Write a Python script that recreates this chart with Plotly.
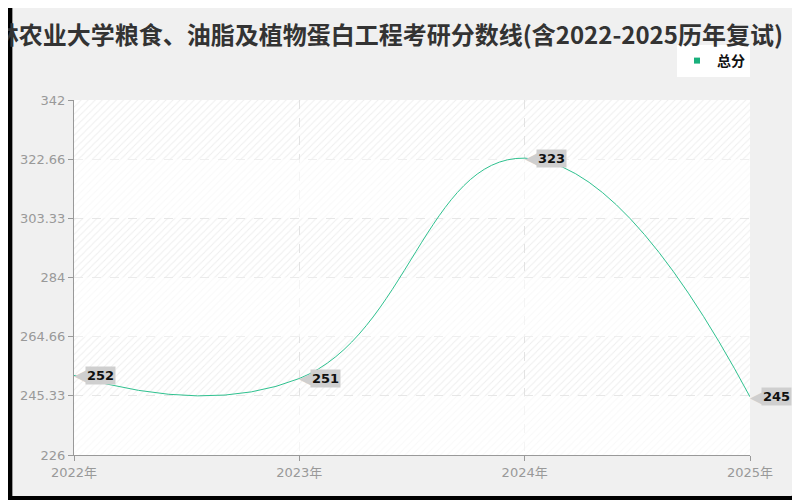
import plotly.graph_objects as go

# ---- data ----
years = [2022, 2023, 2024, 2025]
scores = [252, 251, 323, 245]
series_name = "总分"
x_tick_labels = ["2022年", "2023年", "2024年", "2025年"]
y_tick_vals = [226, 245.33, 264.66, 284, 303.33, 322.66, 342]
y_tick_labels = ["226", "245.33", "264.66", "284", "303.33", "322.66", "342"]
title_text = "吉林农业大学粮食、油脂及植物蛋白工程考研分数线(含2022-2025历年复试)"

# page offset (body margin) compensation: screen = figure + 8
OFF = 8
W, H = 800, 500
ML, MT = 70 - OFF, 100 - OFF
PW, PH = 680, 355
MR, MB = W - ML - PW, H - MT - PH

def xp(px):
    return (px - ML) / PW

def yp(py):
    return (MT + PH - py) / PH

line_color = "#2fc18f"
cjk = "Noto Sans CJK SC"
tick_family = f"DejaVu Sans, {cjk}, sans-serif"

fig = go.Figure()

x0, x1 = years[0], years[-1]
y0, y1 = y_tick_vals[0], y_tick_vals[-1]

# hatched plot background
fig.add_trace(go.Scatter(
    x=[x0, x1, x1, x0, x0], y=[y0, y0, y1, y1, y0],
    mode="lines", line=dict(width=0), fill="toself",
    fillcolor="rgba(0,0,0,0)",
    fillpattern=dict(shape="/", fgcolor="#dedede", size=5, solidity=0.2),
    hoverinfo="skip", showlegend=False,
))
# lighter alternating bands
for i in range(0, len(y_tick_vals) - 1, 2):
    a, b = y_tick_vals[i], y_tick_vals[i + 1]
    fig.add_trace(go.Scatter(
        x=[x0, x1, x1, x0, x0], y=[a, a, b, b, a],
        mode="lines", line=dict(width=0), fill="toself",
        fillcolor="rgba(255,255,255,0.6)",
        hoverinfo="skip", showlegend=False,
    ))

# main line
fig.add_trace(go.Scatter(
    x=years, y=scores, mode="lines", name=series_name,
    line=dict(color=line_color, width=1, shape="spline", smoothing=1.3),
    showlegend=False, cliponaxis=False,
))
# legend entry (square marker)
fig.add_trace(go.Scatter(
    x=[None], y=[None], mode="markers", name=series_name,
    marker=dict(symbol="square", size=6, color="#19b07c"),
    showlegend=True,
))

annotations = []
for xv, yv in zip(years, scores):
    annotations.append(dict(
        x=xv, y=yv, xref="x", yref="y", text="◀", showarrow=False,
        xanchor="left", yanchor="middle", xshift=-2, yshift=0,
        font=dict(family="DejaVu Sans", size=17, color="#cfcfcf"),
    ))
    annotations.append(dict(
        x=xv, y=yv, xref="x", yref="y", text=f"<b>{yv}</b>", showarrow=False,
        xanchor="left", yanchor="middle", xshift=11,
        bgcolor="#cfcfcf", borderpad=1,
        font=dict(family="DejaVu Sans", size=13, color="#111111"),
    ))

# frame: light panel (rounded bottom-right) with hole for the plot area
r = 6
fx0, fx1, fy0, fy1 = 0, 796 - OFF, 0, 496 - OFF
outer = (
    f"M{xp(fx0)},{yp(fy0)} L{xp(fx1)},{yp(fy0)} "
    f"L{xp(fx1)},{yp(fy1 - r)} Q{xp(fx1)},{yp(fy1)} {xp(fx1 - r)},{yp(fy1)} "
    f"L{xp(fx0)},{yp(fy1)} Z"
)
inner = " M0,0 L0,1 L1,1 L1,0 Z"
shapes = [dict(type="path", xref="paper", yref="paper", path=outer + inner,
               fillcolor="#f0f0f0", line=dict(width=0), layer="below")]

fig.update_layout(
    width=W, height=H,
    margin=dict(l=ML, r=MR, t=MT, b=MB),
    paper_bgcolor="#000000",
    plot_bgcolor="#ffffff",
    font=dict(family=tick_family, color="#999999"),
    title=dict(text=title_text, xref="container", x=(783 - OFF) / W, xanchor="right",
               yref="container", y=1 - (36 - OFF) / H, yanchor="middle",
               font=dict(family=cjk, size=24, color="#333333", weight="bold")),
    showlegend=True,
    legend=dict(x=1, xanchor="right", y=yp(45 - OFF), yanchor="top",
                bgcolor="#ffffff", borderwidth=0,
                font=dict(family=cjk, size=14, color="#111111", weight="bold"),
                itemwidth=30, tracegroupgap=0),
    xaxis=dict(range=[x0, x1], tickvals=years, ticktext=x_tick_labels,
               showgrid=True, gridcolor="#e3e3e3", griddash="dash", gridwidth=1,
               showline=True, linecolor="#999999", linewidth=1,
               ticks="outside", ticklen=5, tickcolor="#999999",
               tickfont=dict(family=tick_family, size=13, color="#999999"), zeroline=False),
    yaxis=dict(range=[y0, y1], tickvals=y_tick_vals, ticktext=y_tick_labels,
               showgrid=True, gridcolor="#e3e3e3", griddash="dash", gridwidth=1,
               showline=True, linecolor="#999999", linewidth=1,
               ticks="outside", ticklen=5, tickcolor="#999999",
               tickfont=dict(family=tick_family, size=13, color="#999999"), zeroline=False),
    annotations=annotations,
    shapes=shapes,
)

fig.write_html("out.html")
